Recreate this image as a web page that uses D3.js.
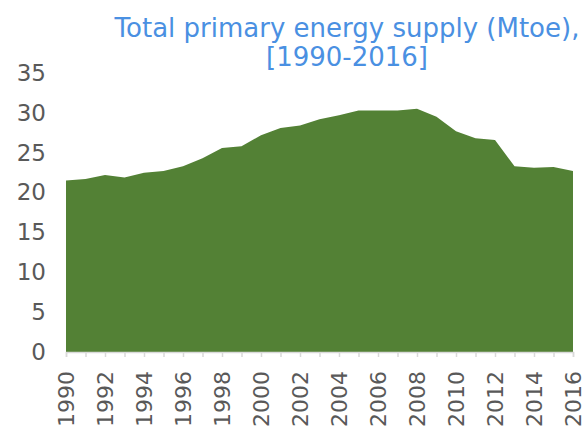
<!DOCTYPE html>
<html><head><meta charset="utf-8">
<script src="https://cdn.jsdelivr.net/npm/d3@7"></script>
<style>body{margin:0;background:#fff}svg{display:block}</style>
</head><body>
<svg id="c" width="588" height="434"></svg>
<script>
const years = [1990,1991,1992,1993,1994,1995,1996,1997,1998,1999,2000,2001,2002,2003,2004,2005,2006,2007,2008,2009,2010,2011,2012,2013,2014,2015,2016];
const supply = [21.5,21.7,22.2,21.9,22.5,22.7,23.3,24.3,25.6,25.8,27.2,28.1,28.4,29.2,29.7,30.3,30.3,30.3,30.5,29.5,27.7,26.8,26.6,23.3,23.1,23.2,22.7];
const yTicks = [0,5,10,15,20,25,30,35];
const xLabels = [1990,1992,1994,1996,1998,2000,2002,2004,2006,2008,2010,2012,2014,2016];
const titleLines = ["Total primary energy supply (Mtoe),","[1990-2016]"];

const svg = d3.select("#c");
const x = d3.scaleLinear().domain([1990,2016]).range([66,573]);
const y = d3.scaleLinear().domain([0,35]).range([352,73]);
const font = "DejaVu Sans, Verdana, sans-serif";

const data = years.map((yr,i)=>({yr, v:supply[i]}));
svg.append("path").datum(data)
  .attr("fill","#538135")
  .attr("d", d3.area().x(d=>x(d.yr)).y0(y(0)).y1(d=>y(d.v)));

// y axis labels
const ya = svg.append("g").attr("transform","translate(46,0)")
  .call(d3.axisLeft(y).tickValues(yTicks).tickSize(0).tickPadding(0));
ya.select(".domain").remove();
ya.selectAll("text").attr("font-family",font).attr("font-size",23).attr("fill","#595959");

// x axis
const xa = svg.append("g").attr("transform",`translate(0,${y(0)})`)
  .call(d3.axisBottom(x).tickValues(years).tickSize(5).tickFormat(d=>xLabels.includes(d)?d:""));
xa.select(".domain").attr("stroke","#d9d9d9").attr("stroke-width",1.5);
xa.selectAll(".tick line").attr("stroke","#d9d9d9").attr("stroke-width",1.5);
xa.selectAll("text")
  .attr("font-family",font).attr("font-size",22).attr("fill","#595959")
  .attr("transform","rotate(-90)")
  .attr("text-anchor","end").attr("x",-19).attr("y",0).attr("dy","0.36em");

svg.append("g").selectAll("text").data(titleLines).join("text")
  .attr("x",347).attr("y",(d,i)=>37+i*29)
  .attr("text-anchor","middle")
  .attr("font-family",font).attr("font-size",26).attr("fill","#4a90e2")
  .text(d=>d);
</script>
</body></html>
